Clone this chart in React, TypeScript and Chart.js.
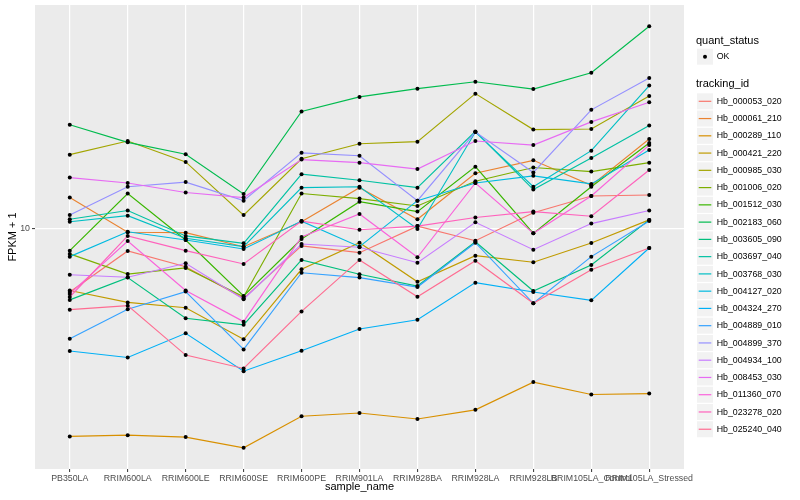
import React, { useEffect, useRef } from "react";
import { Chart, registerables } from "chart.js";

Chart.register(...registerables);

const categories = [
  "PB350LA",
  "RRIM600LA",
  "RRIM600LE",
  "RRIM600SE",
  "RRIM600PE",
  "RRIM901LA",
  "RRIM928BA",
  "RRIM928LA",
  "RRIM928LB",
  "RRIM105LA_Control",
  "RRIM105LA_Stressed",
];

const trackingIds = [
  "Hb_000053_020",
  "Hb_000061_210",
  "Hb_000289_110",
  "Hb_000421_220",
  "Hb_000985_030",
  "Hb_001006_020",
  "Hb_001512_030",
  "Hb_002183_060",
  "Hb_003605_090",
  "Hb_003697_040",
  "Hb_003768_030",
  "Hb_004127_020",
  "Hb_004324_270",
  "Hb_004889_010",
  "Hb_004899_370",
  "Hb_004934_100",
  "Hb_008453_030",
  "Hb_011360_070",
  "Hb_023278_020",
  "Hb_025240_040",
];

const seriesColors = [
  "#F8766D", "#EA8331", "#D89000", "#C09B00", "#A3A500",
  "#7CAE00", "#39B600", "#00BB4E", "#00BF7D", "#00C1A3",
  "#00BFC4", "#00BAE0", "#00B0F6", "#35A2FF", "#9590FF",
  "#C77CFF", "#E76BF3", "#FA62DB", "#FF62BC", "#FF6C91",
];

// FPKM + 1 per sample, in category order
const hb000053_020 = [6.15, 8.43, 7.47, 5.86, 8.76, 8.32, 10.2, 9.12, 11.3, 12.85, 12.95];
const hb000061_210 = [12.7, 9.73, 9.7, 8.71, 10.55, 13.7, 10.75, 15.3, 16.9, 13.95, 19.9];
const hb000289_110 = [2.03, 2.05, 2.02, 1.86, 2.37, 2.43, 2.32, 2.49, 3.08, 2.8, 2.82];
const hb000421_220 = [6.22, 5.68, 5.45, 4.28, 7.32, 8.98, 6.65, 8.13, 7.73, 8.96, 10.7];
const hb000985_030 = [17.65, 19.6, 16.7, 11.1, 17.1, 19.2, 19.5, 28.2, 21.4, 21.5, 27.7];
const hb001006_020 = [8.24, 7.06, 7.4, 5.93, 13.1, 12.6, 11.9, 14.4, 16.0, 15.5, 16.6];
const hb001512_030 = [8.45, 13.1, 9.17, 5.97, 9.24, 12.3, 11.4, 16.1, 9.65, 13.8, 19.3];
const hb002183_060 = [22.2, 19.4, 17.7, 13.05, 24.6, 27.5, 29.3, 30.9, 29.2, 33.1, 47.3];
const hb003605_090 = [5.79, 6.87, 5.03, 4.78, 7.87, 7.05, 6.44, 9.05, 6.2, 7.57, 10.7];
const hb003697_040 = [10.75, 11.5, 9.46, 8.94, 15.2, 14.5, 13.7, 21.1, 13.5, 17.2, 22.1];
const hb003768_030 = [10.55, 11.05, 9.29, 8.71, 13.7, 13.8, 9.98, 21.0, 13.8, 18.2, 30.0];
const hb004127_020 = [8.07, 9.77, 9.17, 8.56, 10.6, 8.71, 12.4, 14.2, 15.0, 14.1, 18.3];
const hb004324_270 = [3.91, 3.72, 4.48, 3.35, 3.92, 4.63, 4.97, 6.61, 6.15, 5.77, 8.62];
const hb004889_010 = [4.3, 5.39, 6.17, 3.96, 7.13, 6.87, 6.39, 8.98, 5.64, 8.07, 10.6];
const hb004899_370 = [11.1, 13.8, 14.3, 12.4, 17.9, 17.5, 12.4, 21.0, 15.4, 24.9, 31.8];
const hb004934_100 = [7.02, 6.89, 7.67, 5.82, 8.89, 8.67, 7.7, 10.5, 8.51, 10.4, 11.5];
const hb008453_030 = [14.8, 14.2, 13.2, 12.7, 17.0, 16.6, 15.8, 19.6, 19.0, 22.7, 26.4];
const hb011360_070 = [6.06, 9.1, 6.22, 4.9, 9.38, 11.2, 8.03, 14.2, 9.65, 12.85, 19.0];
const hb023278_020 = [5.92, 9.46, 8.45, 7.63, 10.6, 9.92, 10.2, 10.9, 11.4, 11.0, 15.7];
const hb025240_040 = [5.37, 5.54, 3.79, 3.42, 5.3, 7.87, 5.93, 7.82, 5.64, 7.3, 8.62];

const seriesValues = [
  hb000053_020, hb000061_210, hb000289_110, hb000421_220, hb000985_030,
  hb001006_020, hb001512_030, hb002183_060, hb003605_090, hb003697_040,
  hb003768_030, hb004127_020, hb004324_270, hb004889_010, hb004899_370,
  hb004934_100, hb008453_030, hb011360_070, hb023278_020, hb025240_040,
];

const yTickValues = [10];
const yAxisMin = 1.581;
const yAxisMax = 55.68;

const FAMILY = "'Liberation Sans', Arial, Helvetica, sans-serif";

const backgroundPlugin = {
  id: "ggBackground",
  beforeDraw(chart: any) {
    const { ctx, chartArea } = chart;
    ctx.save();
    ctx.fillStyle = "#FFFFFF";
    ctx.fillRect(0, 0, chart.width, chart.height);
    ctx.fillStyle = "#EBEBEB";
    ctx.fillRect(chartArea.left, chartArea.top, chartArea.right - chartArea.left, chartArea.bottom - chartArea.top);
    ctx.restore();
  },
};

const legendPlugin = {
  id: "ggLegend",
  afterDraw(chart: any) {
    const ctx = chart.ctx;
    ctx.save();
    ctx.textAlign = "left";
    ctx.textBaseline = "middle";
    ctx.fillStyle = "#000000";
    ctx.font = `11px ${FAMILY}`;
    ctx.fillText("quant_status", 696, 40.7);
    ctx.fillStyle = "#F2F2F2";
    ctx.fillRect(697, 48.7, 16, 16);
    ctx.fillStyle = "#000000";
    ctx.beginPath();
    ctx.arc(705, 56.7, 2, 0, Math.PI * 2);
    ctx.fill();
    ctx.font = `8.8px ${FAMILY}`;
    ctx.fillText("OK", 716.7, 56.9);
    ctx.font = `11px ${FAMILY}`;
    ctx.fillText("tracking_id", 696, 84.3);
    ctx.font = `8.8px ${FAMILY}`;
    trackingIds.forEach((id, i) => {
      const top = 93.3 + i * 17.26;
      ctx.fillStyle = "#F2F2F2";
      ctx.fillRect(697, top, 16, 16);
      ctx.strokeStyle = seriesColors[i];
      ctx.lineWidth = 1.2;
      ctx.beginPath();
      ctx.moveTo(698.7, top + 8);
      ctx.lineTo(711.3, top + 8);
      ctx.stroke();
      ctx.fillStyle = "#000000";
      ctx.fillText(id, 716.7, top + 8.2);
    });
    ctx.restore();
  },
};

export default function App() {
  const canvasRef = useRef<HTMLCanvasElement>(null);

  useEffect(() => {
    const canvas = canvasRef.current;
    if (!canvas) return;

    const lineSets = seriesValues.map((vals, i) => ({
      type: "line" as const,
      label: trackingIds[i],
      data: vals.map((v, j) => ({ x: j, y: v })),
      borderColor: seriesColors[i],
      backgroundColor: seriesColors[i],
      borderWidth: 1.15,
      pointRadius: 0,
      fill: false,
      tension: 0,
      order: 100 - i,
    }));

    const pointSets = seriesValues.map((vals, i) => ({
      type: "line" as const,
      label: trackingIds[i] + " points",
      data: vals.map((v, j) => ({ x: j, y: v })),
      showLine: false,
      pointRadius: 2,
      pointBackgroundColor: "#000000",
      pointBorderColor: "#000000",
      pointBorderWidth: 0,
      order: 0,
    }));

    const chart = new Chart(canvas, {
      type: "line",
      data: { datasets: [...lineSets, ...pointSets] as any },
      options: {
        responsive: false,
        animation: false,
        events: [],
        layout: { padding: { left: 0, right: 116, top: 5, bottom: 0 } },
        plugins: {
          legend: { display: false },
          tooltip: { enabled: false },
        },
        scales: {
          x: {
            type: "linear",
            min: -0.6,
            max: 10.6,
            afterBuildTicks: (s: any) => {
              s.ticks = categories.map((_, i) => ({ value: i }));
            },
            afterFit: (s: any) => {
              s.height = 31;
              s.paddingLeft = 0;
              s.paddingRight = 0;
            },
            grid: {
              color: "#FFFFFF",
              lineWidth: 1.2,
              tickColor: "#333333",
              tickLength: 3,
              tickWidth: 1,
            },
            border: { display: false },
            ticks: {
              autoSkip: false,
              maxRotation: 0,
              minRotation: 0,
              padding: 1,
              color: "#4D4D4D",
              font: { family: FAMILY, size: 8.8 },
              callback: (v: any) => categories[Math.round(Number(v))] ?? "",
            },
            title: {
              display: true,
              text: "sample_name",
              color: "#000000",
              font: { family: FAMILY, size: 11 },
              padding: { top: 0, bottom: 6 },
            },
          },
          y: {
            type: "logarithmic",
            min: yAxisMin,
            max: yAxisMax,
            afterBuildTicks: (s: any) => {
              s.ticks = yTickValues.map((v) => ({ value: v }));
            },
            afterFit: (s: any) => {
              s.width = 35;
              s.paddingTop = 0;
              s.paddingBottom = 0;
            },
            grid: {
              color: "#FFFFFF",
              lineWidth: 1.2,
              tickColor: "#333333",
              tickLength: 3,
              tickWidth: 1,
            },
            border: { display: false },
            ticks: {
              padding: 2,
              color: "#4D4D4D",
              font: { family: FAMILY, size: 8.8 },
              callback: (v: any) => String(v),
            },
            title: {
              display: true,
              text: "FPKM + 1",
              color: "#000000",
              font: { family: FAMILY, size: 11 },
              padding: { top: 6, bottom: 0 },
            },
          },
        },
      } as any,
      plugins: [backgroundPlugin, legendPlugin],
    });

    return () => chart.destroy();
  }, []);

  return (
    <div style={{ position: "absolute", left: 0, top: 0, width: 800, height: 500 }}>
      <canvas ref={canvasRef} width={800} height={500} style={{ width: 800, height: 500, display: "block" }} />
    </div>
  );
}
